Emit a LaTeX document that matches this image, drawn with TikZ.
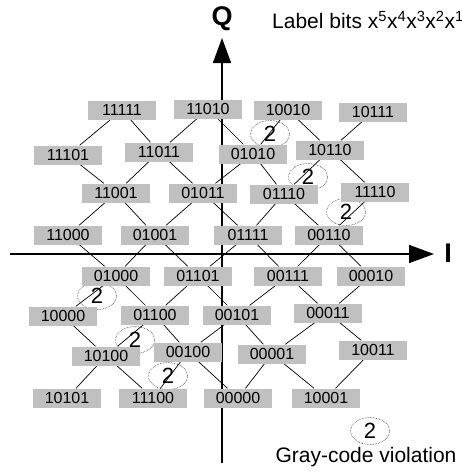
\documentclass[tikz,border=0pt]{standalone}
\usepackage{fontspec}
\setmainfont{Liberation Sans}
\usepackage{tikz}
\usetikzlibrary{shapes.geometric, arrows.meta, backgrounds}
\definecolor{BoxGray}{RGB}{192,192,192}
\tikzset{
    bitbox/.style={rectangle, fill=BoxGray, inner sep=0pt,
        minimum width=68pt, minimum height=19pt, font=\fontsize{16}{16}\selectfont},
    bitline/.style={black, line width=0.7pt},
    axisline/.style={line width=1.6pt, -{Triangle[length=25pt, width=18pt]}},
    axislabel/.style={font=\fontsize{27}{27}\selectfont\bfseries},
    violation/.style={ellipse, draw=black!80, densely dotted, line width=0.6pt,
        minimum width=39pt, minimum height=27pt, inner sep=0pt,
        font=\fontsize{22}{22}\selectfont},
}

\begin{document}
\begin{tikzpicture}[x=1pt, y=-1pt]
    \useasboundingbox (0,0) rectangle (462,472);

    % axes
    \coordinate (iStart) at (10,254);
    \coordinate (iEnd) at (434,254);
    \coordinate (qStart) at (222,463);
    \coordinate (qEnd) at (222,38);
    \draw[axisline] (iStart) -- (iEnd);
    \draw[axisline] (qStart) -- (qEnd);
    \node[axislabel] (ilabel) at (448,253) {I};
    \node[axislabel] (qlabel) at (222,19) {Q};
    \node[anchor=west, inner sep=0pt, font=\fontsize{21}{21}\selectfont] (bits) at (272,20)
        {Label bits x\textsuperscript{5}x\textsuperscript{4}x\textsuperscript{3}x\textsuperscript{2}x\textsuperscript{1}};

    % constellation points
    \foreach \lab/\x/\y in {11111/122/110, 11010/208/109, 10010/288/110, 10111/373/112,
        11101/68/155, 11011/159/152, 01010/253/154, 10110/330/150,
        11001/116/193, 01011/203/193, 01110/284/194, 11110/375/192,
        11000/68/235, 01001/155/235, 01111/248/235, 00110/329/235,
        01000/116/276, 01101/198/276, 00111/288/276, 00010/371/276,
        10000/63/316, 01100/155/315, 00101/237/315, 00011/328/313,
        10100/106/356, 00100/188/352, 00001/272/354, 10011/373/350,
        10101/67/398, 11100/153/398, 00000/238/398, 10001/326/398}
        \node[bitbox] (b\lab) at (\x,\y) {\lab};

    \begin{scope}[on background layer]
        \foreach \a/\b in {11111/11101, 11111/11011, 11010/11011, 11010/01010,
            10010/01010, 10010/10110, 10111/10110,
            11101/11001, 11011/11001, 11011/01011, 01010/01011,
            01010/01110, 10110/01110, 10110/11110,
            11001/11000, 11001/01001, 01011/01001, 01011/01111,
            01110/01111, 01110/00110, 11110/00110,
            11000/01000, 01001/01000, 01001/01101, 01111/01101,
            01111/00111, 00110/00111, 00110/00010,
            01000/10000, 01000/01100, 01101/01100, 01101/00101,
            00111/00101, 00111/00011, 00010/00011,
            10000/10100, 01100/10100, 01100/00100, 00101/00100,
            00101/00001, 00011/00001, 00011/10011,
            10100/10101, 10100/11100, 00100/11100, 00100/00000,
            00001/00000, 00001/10001, 10011/10001}
            \draw[bitline] (b\a) -- (b\b);

        % gray-code violations
        \node[violation] (v1) at (270,134) {2};
        \node[violation] (v2) at (308,177) {2};
        \node[violation] (v3) at (346,212) {2};
        \node[violation] (v4) at (97,296) {2};
        \node[violation] (v5) at (135,340) {2};
        \node[violation] (v6) at (168,376) {2};
    \end{scope}

    % legend
    \node[violation] (vkey) at (370,431) {2};
    \node[font=\fontsize{21}{21}\selectfont] (keytext) at (366,457) {Gray-code violation};
\end{tikzpicture}
\end{document}
